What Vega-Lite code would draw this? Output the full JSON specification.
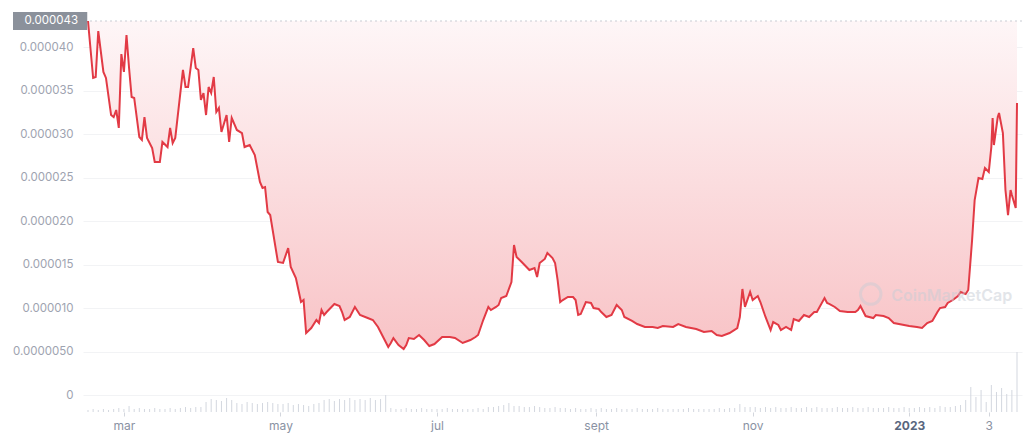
{
"$schema": "https://vega.github.io/schema/vega-lite/v6.json",
"width": 939, "height": 391,
"autosize": {"type": "none"},
"padding": {"left": 83, "top": 21, "right": 2, "bottom": 29},
"background": "white",
"config": {"view": {"stroke": null}, "font": "Inter"},
"datasets": {
"price": [
{"d":"2022-02-15","p":43.0e-6},{"d":"2022-02-17","p":36.45e-6},{"d":"2022-02-18","p":36.56e-6},{"d":"2022-02-19","p":41.85e-6},{"d":"2022-02-21","p":37.14e-6},{"d":"2022-02-22","p":36.45e-6},{"d":"2022-02-24","p":32.19e-6},{"d":"2022-02-25","p":31.96e-6},{"d":"2022-02-26","p":32.77e-6},{"d":"2022-02-27","p":30.70e-6},{"d":"2022-02-28","p":39.20e-6},
{"d":"2022-03-01","p":37.14e-6},{"d":"2022-03-02","p":41.39e-6},{"d":"2022-03-03","p":37.60e-6},{"d":"2022-03-04","p":34.26e-6},{"d":"2022-03-05","p":34.15e-6},{"d":"2022-03-07","p":29.66e-6},{"d":"2022-03-08","p":29.32e-6},{"d":"2022-03-09","p":31.96e-6},{"d":"2022-03-10","p":29.55e-6},{"d":"2022-03-12","p":28.40e-6},{"d":"2022-03-13","p":26.79e-6},{"d":"2022-03-15","p":26.79e-6},{"d":"2022-03-16","p":29.09e-6},{"d":"2022-03-18","p":28.51e-6},{"d":"2022-03-19","p":30.70e-6},{"d":"2022-03-20","p":28.97e-6},{"d":"2022-03-21","p":29.55e-6},{"d":"2022-03-24","p":37.37e-6},{"d":"2022-03-25","p":35.41e-6},{"d":"2022-03-26","p":35.41e-6},{"d":"2022-03-28","p":39.89e-6},{"d":"2022-03-29","p":37.60e-6},{"d":"2022-03-30","p":37.37e-6},{"d":"2022-03-31","p":33.92e-6},
{"d":"2022-04-01","p":34.72e-6},{"d":"2022-04-02","p":32.19e-6},{"d":"2022-04-03","p":35.41e-6},{"d":"2022-04-04","p":34.72e-6},{"d":"2022-04-05","p":36.56e-6},{"d":"2022-04-06","p":32.54e-6},{"d":"2022-04-07","p":33.00e-6},{"d":"2022-04-08","p":30.24e-6},{"d":"2022-04-10","p":32.19e-6},{"d":"2022-04-11","p":29.09e-6},{"d":"2022-04-12","p":31.85e-6},{"d":"2022-04-14","p":30.47e-6},{"d":"2022-04-16","p":30.12e-6},{"d":"2022-04-17","p":28.51e-6},{"d":"2022-04-19","p":28.74e-6},{"d":"2022-04-21","p":27.59e-6},{"d":"2022-04-23","p":24.49e-6},{"d":"2022-04-24","p":23.80e-6},{"d":"2022-04-25","p":23.91e-6},{"d":"2022-04-26","p":21.04e-6},{"d":"2022-04-27","p":20.69e-6},{"d":"2022-04-30","p":15.29e-6},
{"d":"2022-05-02","p":15.18e-6},{"d":"2022-05-04","p":16.90e-6},{"d":"2022-05-05","p":14.72e-6},{"d":"2022-05-07","p":13.45e-6},{"d":"2022-05-09","p":10.69e-6},{"d":"2022-05-10","p":10.92e-6},{"d":"2022-05-11","p":7.13e-6},{"d":"2022-05-13","p":7.70e-6},{"d":"2022-05-15","p":8.62e-6},{"d":"2022-05-16","p":8.28e-6},{"d":"2022-05-17","p":9.77e-6},{"d":"2022-05-18","p":9.20e-6},{"d":"2022-05-19","p":9.54e-6},{"d":"2022-05-22","p":10.46e-6},{"d":"2022-05-24","p":10.23e-6},{"d":"2022-05-25","p":9.54e-6},{"d":"2022-05-26","p":8.62e-6},{"d":"2022-05-28","p":8.97e-6},{"d":"2022-05-30","p":10.12e-6},
{"d":"2022-06-01","p":9.20e-6},{"d":"2022-06-04","p":8.85e-6},{"d":"2022-06-06","p":8.62e-6},{"d":"2022-06-08","p":7.82e-6},{"d":"2022-06-10","p":6.67e-6},{"d":"2022-06-12","p":5.52e-6},{"d":"2022-06-13","p":5.98e-6},{"d":"2022-06-14","p":6.55e-6},{"d":"2022-06-16","p":5.75e-6},{"d":"2022-06-18","p":5.29e-6},{"d":"2022-06-19","p":5.75e-6},{"d":"2022-06-20","p":6.55e-6},{"d":"2022-06-22","p":6.44e-6},{"d":"2022-06-24","p":6.90e-6},{"d":"2022-06-26","p":6.32e-6},{"d":"2022-06-28","p":5.63e-6},{"d":"2022-06-30","p":5.86e-6},
{"d":"2022-07-03","p":6.67e-6},{"d":"2022-07-06","p":6.67e-6},{"d":"2022-07-08","p":6.55e-6},{"d":"2022-07-11","p":5.98e-6},{"d":"2022-07-14","p":6.32e-6},{"d":"2022-07-16","p":6.67e-6},{"d":"2022-07-17","p":6.90e-6},{"d":"2022-07-19","p":8.62e-6},{"d":"2022-07-21","p":10.12e-6},{"d":"2022-07-22","p":9.77e-6},{"d":"2022-07-24","p":10.12e-6},{"d":"2022-07-25","p":10.35e-6},{"d":"2022-07-26","p":11.15e-6},{"d":"2022-07-28","p":11.38e-6},{"d":"2022-07-30","p":12.99e-6},{"d":"2022-07-31","p":17.25e-6},
{"d":"2022-08-01","p":15.87e-6},{"d":"2022-08-03","p":15.29e-6},{"d":"2022-08-06","p":14.37e-6},{"d":"2022-08-08","p":14.60e-6},{"d":"2022-08-09","p":13.57e-6},{"d":"2022-08-10","p":15.18e-6},{"d":"2022-08-12","p":15.64e-6},{"d":"2022-08-13","p":16.33e-6},{"d":"2022-08-15","p":15.75e-6},{"d":"2022-08-16","p":15.18e-6},{"d":"2022-08-17","p":13.22e-6},{"d":"2022-08-18","p":10.69e-6},{"d":"2022-08-19","p":10.92e-6},{"d":"2022-08-21","p":11.27e-6},{"d":"2022-08-23","p":11.27e-6},{"d":"2022-08-24","p":10.92e-6},{"d":"2022-08-25","p":9.20e-6},{"d":"2022-08-26","p":9.31e-6},{"d":"2022-08-28","p":10.69e-6},{"d":"2022-08-30","p":10.58e-6},{"d":"2022-08-31","p":10.00e-6},
{"d":"2022-09-02","p":9.89e-6},{"d":"2022-09-03","p":9.54e-6},{"d":"2022-09-05","p":8.97e-6},{"d":"2022-09-07","p":9.20e-6},{"d":"2022-09-09","p":10.35e-6},{"d":"2022-09-11","p":9.77e-6},{"d":"2022-09-12","p":8.97e-6},{"d":"2022-09-15","p":8.51e-6},{"d":"2022-09-17","p":8.16e-6},{"d":"2022-09-20","p":7.82e-6},{"d":"2022-09-23","p":7.82e-6},{"d":"2022-09-25","p":7.70e-6},{"d":"2022-09-27","p":7.93e-6},
{"d":"2022-10-01","p":7.82e-6},{"d":"2022-10-03","p":8.16e-6},{"d":"2022-10-06","p":7.82e-6},{"d":"2022-10-10","p":7.59e-6},{"d":"2022-10-13","p":7.24e-6},{"d":"2022-10-16","p":7.36e-6},{"d":"2022-10-18","p":6.90e-6},{"d":"2022-10-20","p":6.78e-6},{"d":"2022-10-23","p":7.13e-6},{"d":"2022-10-26","p":7.70e-6},{"d":"2022-10-27","p":8.97e-6},{"d":"2022-10-28","p":12.19e-6},{"d":"2022-10-29","p":10.12e-6},{"d":"2022-10-31","p":11.84e-6},
{"d":"2022-11-01","p":10.92e-6},{"d":"2022-11-03","p":11.38e-6},{"d":"2022-11-04","p":10.69e-6},{"d":"2022-11-06","p":8.97e-6},{"d":"2022-11-08","p":7.47e-6},{"d":"2022-11-09","p":8.39e-6},{"d":"2022-11-11","p":8.05e-6},{"d":"2022-11-12","p":7.47e-6},{"d":"2022-11-14","p":7.82e-6},{"d":"2022-11-16","p":7.47e-6},{"d":"2022-11-17","p":8.74e-6},{"d":"2022-11-19","p":8.51e-6},{"d":"2022-11-21","p":9.20e-6},{"d":"2022-11-23","p":8.97e-6},{"d":"2022-11-25","p":9.54e-6},{"d":"2022-11-26","p":9.54e-6},{"d":"2022-11-29","p":11.15e-6},{"d":"2022-11-30","p":10.58e-6},
{"d":"2022-12-01","p":10.46e-6},{"d":"2022-12-03","p":10.12e-6},{"d":"2022-12-05","p":9.66e-6},{"d":"2022-12-08","p":9.54e-6},{"d":"2022-12-11","p":9.54e-6},{"d":"2022-12-12","p":9.77e-6},{"d":"2022-12-13","p":10.23e-6},{"d":"2022-12-15","p":9.08e-6},{"d":"2022-12-18","p":8.85e-6},{"d":"2022-12-19","p":9.20e-6},{"d":"2022-12-22","p":9.08e-6},{"d":"2022-12-24","p":8.85e-6},{"d":"2022-12-26","p":8.28e-6},{"d":"2022-12-30","p":8.05e-6},
{"d":"2023-01-01","p":7.93e-6},{"d":"2023-01-04","p":7.82e-6},{"d":"2023-01-06","p":7.70e-6},{"d":"2023-01-08","p":8.28e-6},{"d":"2023-01-10","p":8.51e-6},{"d":"2023-01-12","p":9.54e-6},{"d":"2023-01-13","p":10.00e-6},{"d":"2023-01-15","p":10.12e-6},{"d":"2023-01-16","p":10.58e-6},{"d":"2023-01-18","p":10.92e-6},{"d":"2023-01-20","p":11.38e-6},{"d":"2023-01-21","p":11.84e-6},{"d":"2023-01-23","p":11.61e-6},{"d":"2023-01-24","p":12.07e-6},{"d":"2023-01-25T12:00:00Z","p":17.82e-6},{"d":"2023-01-26T12:00:00Z","p":22.42e-6},{"d":"2023-01-28","p":24.95e-6},{"d":"2023-01-29T12:00:00Z","p":24.83e-6},{"d":"2023-01-30T12:00:00Z","p":26.10e-6},
{"d":"2023-02-01","p":25.64e-6},{"d":"2023-02-02","p":28.51e-6},{"d":"2023-02-02T12:00:00Z","p":31.85e-6},{"d":"2023-02-03","p":28.74e-6},{"d":"2023-02-04T12:00:00Z","p":31.96e-6},{"d":"2023-02-05","p":32.42e-6},{"d":"2023-02-06T12:00:00Z","p":30.12e-6},{"d":"2023-02-07T12:00:00Z","p":23.57e-6},{"d":"2023-02-08T12:00:00Z","p":20.69e-6},{"d":"2023-02-09T12:00:00Z","p":23.57e-6},{"d":"2023-02-10","p":23.00e-6},{"d":"2023-02-11T12:00:00Z","p":21.50e-6},{"d":"2023-02-12","p":33.57e-6}
],
"volume": [
{"d":"2022-02-15","v":5},{"d":"2022-02-17","v":7.5},{"d":"2022-02-19","v":5},{"d":"2022-02-21","v":7.5},{"d":"2022-02-23","v":5},{"d":"2022-02-25","v":7.5},{"d":"2022-02-27","v":10},
{"d":"2022-03-01","v":7.5},{"d":"2022-03-03","v":15},{"d":"2022-03-05","v":7.5},{"d":"2022-03-07","v":10},{"d":"2022-03-09","v":7.5},{"d":"2022-03-11","v":7.5},{"d":"2022-03-13","v":10},{"d":"2022-03-15","v":7.5},{"d":"2022-03-17","v":7.5},{"d":"2022-03-19","v":10},{"d":"2022-03-21","v":7.5},{"d":"2022-03-23","v":10},{"d":"2022-03-25","v":12.5},{"d":"2022-03-27","v":10},{"d":"2022-03-29","v":12.5},{"d":"2022-03-31","v":12.5},
{"d":"2022-04-02","v":25},{"d":"2022-04-04","v":32.5},{"d":"2022-04-06","v":30},{"d":"2022-04-08","v":27.5},{"d":"2022-04-10","v":35},{"d":"2022-04-12","v":30},{"d":"2022-04-14","v":22.5},{"d":"2022-04-16","v":20},{"d":"2022-04-18","v":25},{"d":"2022-04-20","v":22.5},{"d":"2022-04-22","v":20},{"d":"2022-04-24","v":22.5},{"d":"2022-04-26","v":25},{"d":"2022-04-28","v":22.5},{"d":"2022-04-30","v":20},
{"d":"2022-05-02","v":20},{"d":"2022-05-04","v":22.5},{"d":"2022-05-06","v":17.5},{"d":"2022-05-08","v":20},{"d":"2022-05-10","v":17.5},{"d":"2022-05-12","v":15},{"d":"2022-05-14","v":20},{"d":"2022-05-16","v":22.5},{"d":"2022-05-18","v":30},{"d":"2022-05-20","v":32.5},{"d":"2022-05-22","v":27.5},{"d":"2022-05-24","v":32.5},{"d":"2022-05-26","v":30},{"d":"2022-05-28","v":35},{"d":"2022-05-30","v":30},
{"d":"2022-06-01","v":32.5},{"d":"2022-06-03","v":30},{"d":"2022-06-05","v":35},{"d":"2022-06-07","v":30},{"d":"2022-06-09","v":32.5},{"d":"2022-06-11","v":42.5},{"d":"2022-06-13","v":10},{"d":"2022-06-15","v":7.5},{"d":"2022-06-17","v":7.5},{"d":"2022-06-19","v":10},{"d":"2022-06-21","v":7.5},{"d":"2022-06-23","v":7.5},{"d":"2022-06-25","v":10},{"d":"2022-06-27","v":7.5},{"d":"2022-06-29","v":7.5},
{"d":"2022-07-01","v":7.5},{"d":"2022-07-03","v":7.5},{"d":"2022-07-05","v":10},{"d":"2022-07-07","v":7.5},{"d":"2022-07-09","v":7.5},{"d":"2022-07-11","v":7.5},{"d":"2022-07-13","v":7.5},{"d":"2022-07-15","v":7.5},{"d":"2022-07-17","v":10},{"d":"2022-07-19","v":7.5},{"d":"2022-07-21","v":12.5},{"d":"2022-07-23","v":12.5},{"d":"2022-07-25","v":15},{"d":"2022-07-27","v":17.5},{"d":"2022-07-29","v":22.5},{"d":"2022-07-31","v":15},
{"d":"2022-08-02","v":15},{"d":"2022-08-04","v":12.5},{"d":"2022-08-06","v":12.5},{"d":"2022-08-08","v":15},{"d":"2022-08-10","v":12.5},{"d":"2022-08-12","v":10},{"d":"2022-08-14","v":10},{"d":"2022-08-16","v":12.5},{"d":"2022-08-18","v":10},{"d":"2022-08-20","v":10},{"d":"2022-08-22","v":7.5},{"d":"2022-08-24","v":10},{"d":"2022-08-26","v":7.5},{"d":"2022-08-28","v":7.5},{"d":"2022-08-30","v":10},
{"d":"2022-09-01","v":7.5},{"d":"2022-09-03","v":10},{"d":"2022-09-05","v":7.5},{"d":"2022-09-07","v":7.5},{"d":"2022-09-09","v":10},{"d":"2022-09-11","v":7.5},{"d":"2022-09-13","v":7.5},{"d":"2022-09-15","v":7.5},{"d":"2022-09-17","v":10},{"d":"2022-09-19","v":7.5},{"d":"2022-09-21","v":7.5},{"d":"2022-09-23","v":7.5},{"d":"2022-09-25","v":10},{"d":"2022-09-27","v":7.5},{"d":"2022-09-29","v":7.5},
{"d":"2022-10-01","v":7.5},{"d":"2022-10-03","v":7.5},{"d":"2022-10-05","v":7.5},{"d":"2022-10-07","v":10},{"d":"2022-10-09","v":7.5},{"d":"2022-10-11","v":7.5},{"d":"2022-10-13","v":7.5},{"d":"2022-10-15","v":7.5},{"d":"2022-10-17","v":7.5},{"d":"2022-10-19","v":10},{"d":"2022-10-21","v":7.5},{"d":"2022-10-23","v":10},{"d":"2022-10-25","v":10},{"d":"2022-10-27","v":20},{"d":"2022-10-29","v":12.5},{"d":"2022-10-31","v":12.5},
{"d":"2022-11-02","v":12.5},{"d":"2022-11-04","v":10},{"d":"2022-11-06","v":12.5},{"d":"2022-11-08","v":10},{"d":"2022-11-10","v":12.5},{"d":"2022-11-12","v":10},{"d":"2022-11-14","v":10},{"d":"2022-11-16","v":12.5},{"d":"2022-11-18","v":10},{"d":"2022-11-20","v":10},{"d":"2022-11-22","v":12.5},{"d":"2022-11-24","v":10},{"d":"2022-11-26","v":12.5},{"d":"2022-11-28","v":10},{"d":"2022-11-30","v":10},
{"d":"2022-12-02","v":10},{"d":"2022-12-04","v":12.5},{"d":"2022-12-06","v":10},{"d":"2022-12-08","v":10},{"d":"2022-12-10","v":12.5},{"d":"2022-12-12","v":10},{"d":"2022-12-14","v":10},{"d":"2022-12-16","v":12.5},{"d":"2022-12-18","v":10},{"d":"2022-12-20","v":10},{"d":"2022-12-22","v":10},{"d":"2022-12-24","v":12.5},{"d":"2022-12-26","v":10},{"d":"2022-12-28","v":10},{"d":"2022-12-30","v":12.5},
{"d":"2023-01-01","v":10},{"d":"2023-01-03","v":10},{"d":"2023-01-05","v":12.5},{"d":"2023-01-07","v":10},{"d":"2023-01-09","v":12.5},{"d":"2023-01-11","v":10},{"d":"2023-01-13","v":15},{"d":"2023-01-15","v":12.5},{"d":"2023-01-17","v":12.5},{"d":"2023-01-19","v":15},{"d":"2023-01-21","v":17.5},{"d":"2023-01-23","v":30},{"d":"2023-01-25","v":62.5},{"d":"2023-01-27","v":37.5},{"d":"2023-01-29","v":55},{"d":"2023-01-31","v":25},
{"d":"2023-02-02","v":67.5},{"d":"2023-02-04","v":50},{"d":"2023-02-06","v":60},{"d":"2023-02-08","v":45},{"d":"2023-02-10","v":55},{"d":"2023-02-12","v":150}
]
},
"resolve": {"scale": {"y": "independent"}},
"layer": [
{
"data": {"name": "volume"},
"mark": {"type": "bar", "width": 1, "color": "#d3d7df"},
"encoding": {
"x": {"field": "d", "type": "temporal", "scale": {"type": "utc", "domain": ["2022-02-15", "2023-02-12"]},
"axis": {"values": [{"year": 2022, "month": 3, "date": 1, "utc": true}, {"year": 2022, "month": 5, "date": 1, "utc": true}, {"year": 2022, "month": 7, "date": 1, "utc": true}, {"year": 2022, "month": 9, "date": 1, "utc": true}, {"year": 2022, "month": 11, "date": 1, "utc": true}, {"year": 2023, "month": 1, "date": 1, "utc": true}, {"year": 2023, "month": 2, "date": 1, "utc": true}],
"labelExpr": "utcyear(datum.value) == 2023 ? (utcmonth(datum.value) == 0 ? '2023' : '3') : ['jan','feb','mar','apr','may','jun','jul','aug','sept','oct','nov','dec'][utcmonth(datum.value)]",
"title": null, "grid": false, "domain": false, "tickSize": 4, "tickColor": "#d3d6dd", "labelPadding": 4, "labelFontSize": 12, "labelOverlap": false, "labelBound": false,
"labelColor": {"condition": {"test": "utcyear(datum.value) == 2023 && utcmonth(datum.value) == 0", "value": "#58667e"}, "value": "#8a92a3"},
"labelFontWeight": {"condition": {"test": "utcyear(datum.value) == 2023 && utcmonth(datum.value) == 0", "value": "bold"}, "value": "normal"}}},
"y": {"field": "v", "type": "quantitative", "scale": {"domain": [0, 977.5], "nice": false}, "axis": null}
}
},
{
"layer": [
{
"data": {"name": "price"},
"mark": {"type": "area", "color": {"gradient": "linear", "x1": 0, "y1": 0, "x2": 0, "y2": 1, "stops": [{"offset": 0, "color": "#fef6f7"}, {"offset": 1, "color": "#f8c3c6"}]}},
"encoding": {
"x": {"field": "d", "type": "temporal"},
"y": {"field": "p", "type": "quantitative", "scale": {"domain": [-1.954e-6, 43.0e-6], "nice": false, "zero": false},
"axis": {"values": [0, 5e-6, 10e-6, 15e-6, 20e-6, 25e-6, 30e-6, 35e-6, 40e-6],
"labelExpr": "datum.value == 0 ? '0' : (datum.value < 0.0000075 ? format(datum.value, '.7f') : format(datum.value, '.6f'))",
"title": null, "domain": false, "ticks": false, "labelPadding": 10, "labelFontSize": 11.5, "labelColor": "#9ea3b0", "grid": true, "gridColor": "#f2f3f5"}},
"y2": {"datum": 43.0e-6}
}
},
{
"data": {"values": [{"level": 43.0e-6}]},
"mark": {"type": "rule", "color": "#c9ccd3", "strokeDash": [2, 3], "strokeWidth": 1},
"encoding": {"y": {"field": "level", "type": "quantitative"}}
},
{
"data": {"name": "price"},
"mark": {"type": "line", "color": "#e23a45", "strokeWidth": 2},
"encoding": {
"x": {"field": "d", "type": "temporal"},
"y": {"field": "p", "type": "quantitative"}
}
},
{
"data": {"values": [{"d": "2022-12-17", "p": 11.6e-6}]},
"mark": {"type": "point", "shape": "circle", "size": 420, "filled": false, "strokeWidth": 3, "color": "#c7ccd5", "opacity": 0.45},
"encoding": {"x": {"field": "d", "type": "temporal"}, "y": {"field": "p", "type": "quantitative"}}
},
{
"data": {"values": [{"d": "2022-12-25", "p": 11.4e-6, "t": "CoinMarketCap"}]},
"mark": {"type": "text", "align": "left", "baseline": "middle", "fontSize": 16, "fontWeight": 600, "color": "#c7ccd5", "opacity": 0.5},
"encoding": {"x": {"field": "d", "type": "temporal"}, "y": {"field": "p", "type": "quantitative"}, "text": {"field": "t"}}
},
{
"data": {"values": [{"d": "2022-02-15", "p": 43.0e-6}]},
"mark": {"type": "point", "shape": "M-2,-0.24H-0.02V0.24H-2Z", "size": 5625, "filled": true, "color": "#8b919b", "opacity": 1},
"encoding": {"x": {"field": "d", "type": "temporal"}, "y": {"field": "p", "type": "quantitative"}}
},
{
"data": {"values": [{"d": "2022-02-15", "p": 43.0e-6, "t": "0.000043"}]},
"mark": {"type": "text", "align": "right", "baseline": "middle", "dx": -10, "fontSize": 11.5, "color": "#ffffff"},
"encoding": {"x": {"field": "d", "type": "temporal"}, "y": {"field": "p", "type": "quantitative"}, "text": {"field": "t"}}
}
]
}
]
}
